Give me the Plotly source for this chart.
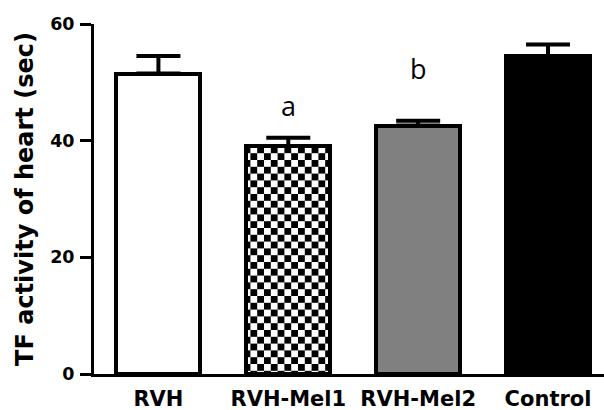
import plotly.graph_objects as go

categories = ["RVH", "RVH-Mel1", "RVH-Mel2", "Control"]
values = [51.5, 39.1, 42.6, 54.5]
errors = [3.0, 1.4, 0.8, 2.0]
bar_colors = ["white", "white", "#808080", "black"]
bar_patterns = ["", ".", "", ""]
sig_labels = ["", "a", "b", ""]
sig_y = [None, 46.1, 52.4, None]
y_ticks = [0, 20, 40, 60]

FONT = "DejaVu Sans"
CHECKER = 13.6

fig = go.Figure()
fig.add_trace(go.Bar(
    x=list(range(len(categories))),
    y=values,
    width=0.646,
    marker=dict(
        color=bar_colors,
        line=dict(color="black", width=4),
        pattern=dict(shape=bar_patterns, size=CHECKER, solidity=0.5,
                     fgcolor="black", fillmode="replace"),
    ),
    error_y=dict(type="data", array=errors, arrayminus=[0] * len(errors),
                 symmetric=False, thickness=4, width=22, color="black"),
    hoverinfo="skip",
))

for i, (lab, yy) in enumerate(zip(sig_labels, sig_y)):
    if lab:
        fig.add_annotation(x=i, y=yy, text=lab, showarrow=False,
                           xanchor="center", yanchor="middle",
                           font=dict(family="Open Sans", size=27, color="black"))

fig.update_layout(
    width=604, height=410,
    template="none",
    paper_bgcolor="white", plot_bgcolor="white",
    margin=dict(l=93.5, r=0, t=24, b=36),
    showlegend=False,
    bargap=0,
)
fig.update_xaxes(
    range=[-0.496, 3.431],
    tickvals=list(range(len(categories))),
    ticktext=categories,
    showline=True, linewidth=3, linecolor="black",
    ticks="", showgrid=False, zeroline=False,
    tickfont=dict(family=FONT, size=21, color="black", weight="bold"),
    ticklabelstandoff=4,
    automargin=False,
)
fig.update_yaxes(
    range=[0, 60],
    tickvals=y_ticks,
    showline=True, linewidth=3, linecolor="black",
    ticks="outside", ticklen=11, tickwidth=3, tickcolor="black",
    showgrid=False, zeroline=False,
    tickfont=dict(family=FONT, size=17.5, color="black", weight="bold"),
    ticklabelstandoff=2,
    title=dict(text="TF activity of heart (sec)", standoff=10,
               font=dict(family=FONT, size=24, color="black", weight="bold")),
    automargin=False,
)

post = """
document.body.style.margin = '0';
document.body.style.padding = '0';
var gd = document.getElementById('{plot_id}');
var ns = 'http://www.w3.org/2000/svg';
var svg = gd.querySelector('svg.main-svg');
var defs = svg.querySelector('defs');
if (!defs) { defs = document.createElementNS(ns, 'defs'); svg.insertBefore(defs, svg.firstChild); }
var s = %s, h = s / 2;
var pat = document.createElementNS(ns, 'pattern');
pat.setAttribute('id', 'checker-fill');
pat.setAttribute('width', s);
pat.setAttribute('height', s);
pat.setAttribute('patternUnits', 'userSpaceOnUse');
var bg = document.createElementNS(ns, 'rect');
bg.setAttribute('width', s); bg.setAttribute('height', s); bg.setAttribute('fill', 'white');
pat.appendChild(bg);
var sq = document.createElementNS(ns, 'path');
sq.setAttribute('d', 'M0,0H' + h + 'V' + h + 'H0Z M' + h + ',' + h + 'H' + s + 'V' + s + 'H' + h + 'Z');
sq.setAttribute('fill', 'black');
pat.appendChild(sq);
defs.appendChild(pat);
var shapes = %s;
var bars = gd.querySelectorAll('.bars .point path');
bars.forEach(function(b, i) {
  if (shapes[i] === '.') { b.style.fill = 'url(#checker-fill)'; b.style.fillOpacity = '1'; }
});
""" % (CHECKER, str(bar_patterns).replace("'", '"'))

fig.write_html("out.html", post_script=post,
               config={"responsive": False, "displayModeBar": False})
